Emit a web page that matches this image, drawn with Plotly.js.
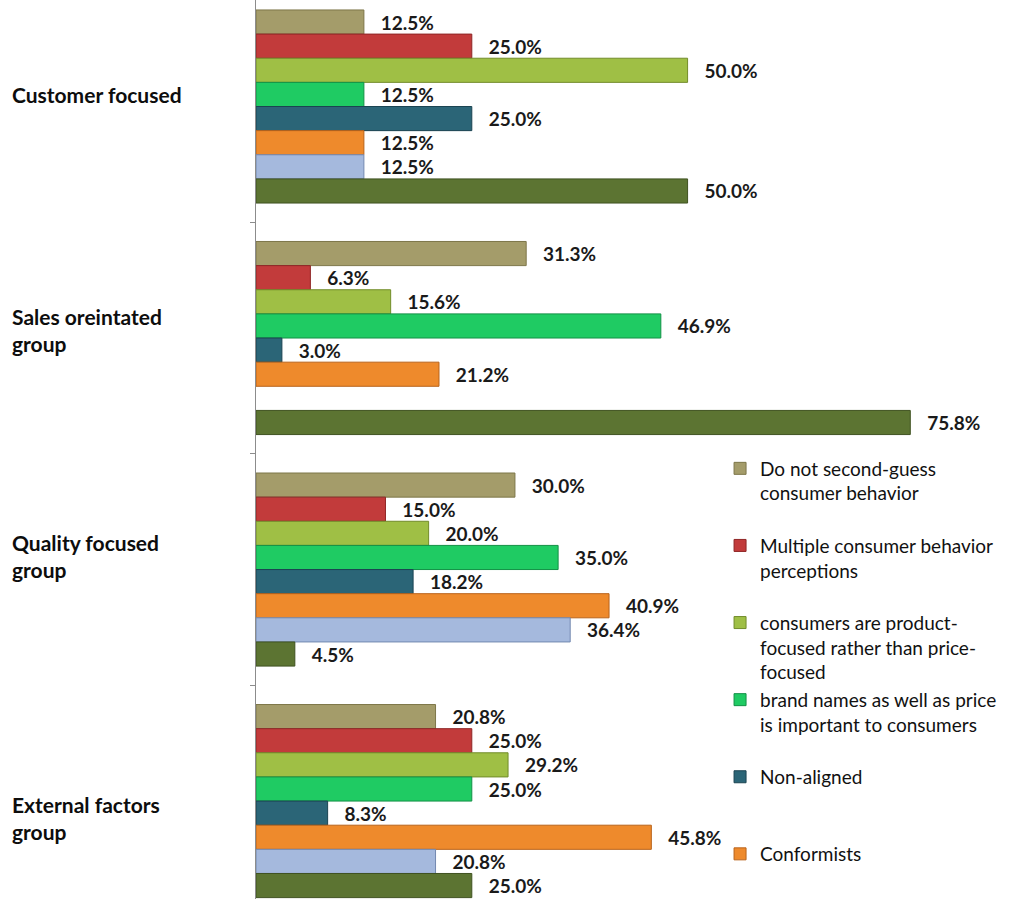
<!DOCTYPE html>
<html><head><meta charset="utf-8">
<script src="https://cdn.plot.ly/plotly-3.0.1.min.js"></script>
<style>html,body{margin:0;padding:0;background:#fff}#chart{width:1032px;height:899px}</style>
</head><body><div id="chart"></div>
<script>
const categories = ['Customer focused', 'Sales oreintated group', 'Quality focused group', 'External factors group'];
const categoryLabels = ['Customer focused', 'Sales oreintated<br>group', 'Quality focused<br>group', 'External factors<br>group'];

const doNotSecondGuess = [12.5, 31.3, 30.0, 20.8];
const multiplePerceptions = [25.0, 6.3, 15.0, 25.0];
const productFocused = [50.0, 15.6, 20.0, 29.2];
const brandNames = [12.5, 46.9, 35.0, 25.0];
const nonAligned = [25.0, 3.0, 18.2, 8.3];
const conformists = [12.5, 21.2, 40.9, 45.8];
const series7 = [12.5, null, 36.4, 20.8];
const series8 = [50.0, 75.8, 4.5, 25.0];

const legendNames = [
  'Do not second-guess<br>consumer behavior<br>\u00a0',
  'Multiple consumer behavior<br>perceptions<br>\u00a0',
  'consumers are product-<br>focused rather than price-<br>focused',
  'brand names as well as price<br>is important to consumers<br>\u00a0',
  'Non-aligned<br>\u00a0<br>\u00a0',
  'Conformists<br>\u00a0<br>\u00a0',
  'Series 7',
  'Series 8'
];
const seriesValues = [doNotSecondGuess, multiplePerceptions, productFocused, brandNames, nonAligned, conformists, series7, series8];
const seriesColors = ['#a49c6a', '#c23b3b', '#9fbf45', '#1fcb63', '#2b6577', '#ee8a2c', '#a5b9dd', '#5c7432'];
const seriesEdges  = ['#7d7649', '#8f2626', '#728c2a', '#139146', '#1b4452', '#b9631a', '#7389b0', '#3f5220'];
const inLegend = [true, true, true, true, true, true, false, false];
const labelShifts = [12, 8, 14, -17];

const traces = seriesValues.map((vals, i) => ({
  type: 'bar',
  orientation: 'h',
  y: categories,
  x: vals,
  name: legendNames[i],
  legendgroup: 'g' + i,
  showlegend: inLegend[i],
  marker: {color: seriesColors[i], line: {color: seriesEdges[i], width: 1}},
  texttemplate: '\u00a0\u00a0\u00a0%{x:.1f}%',
  textposition: 'outside',
  cliponaxis: false,
  constraintext: 'none',
  textfont: {family: 'Lato', size: 19, color: '#1a1a1a', weight: 'bold'},
  hoverinfo: 'x+y'
}));

const annotations = categories.map((c, i) => ({
  xref: 'paper', yref: 'y',
  x: -0.317, y: c,
  xanchor: 'left', yanchor: 'middle', align: 'left',
  text: categoryLabels[i],
  showarrow: false,
  yshift: labelShifts[i],
  font: {family: 'Lato', size: 21, color: '#0d0d0d', weight: 'bold'}
}));

const layout = {
  width: 1032, height: 899,
  margin: {l: 256, r: 0, t: 0, b: 0, autoexpand: false},
  paper_bgcolor: '#ffffff', plot_bgcolor: '#ffffff',
  barmode: 'group',
  bargap: 0.166,
  bargroupgap: 0,
  showlegend: true,
  legend: {
    x: 0.598, y: 0.50, xanchor: 'left', yanchor: 'top',
    valign: 'top', traceorder: 'normal', tracegroupgap: 0,
    bgcolor: 'rgba(0,0,0,0)',
    font: {family: 'Lato', size: 19, color: '#111111'}
  },
  xaxis: {range: [0, 89.9], showgrid: false, zeroline: false, showticklabels: false, showline: false, ticks: ''},
  yaxis: {
    type: 'category', range: [3.423, -0.46],
    showline: true, linecolor: '#8c8c8c', linewidth: 1,
    ticks: 'outside', tickson: 'boundaries', ticklen: 5, tickcolor: '#8c8c8c',
    showticklabels: false, showgrid: false, zeroline: false
  },
  annotations: annotations
};

Plotly.newPlot('chart', traces, layout, {displayModeBar: false, staticPlot: true});
</script>
</body></html>
